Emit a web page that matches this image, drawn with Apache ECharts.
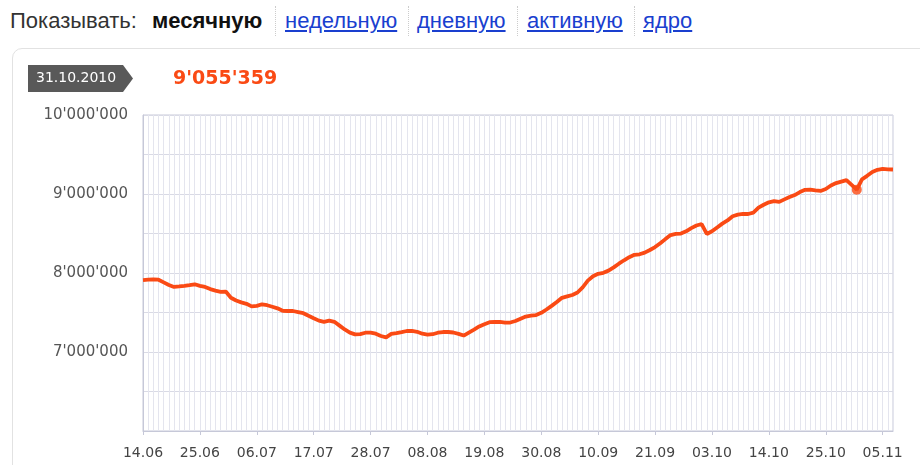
<!DOCTYPE html>
<html>
<head>
<meta charset="utf-8">
<script src="https://cdn.jsdelivr.net/npm/echarts@6/dist/echarts.min.js"></script>
<style>
  html, body { margin: 0; padding: 0; background: #fff; }
  .page { position: relative; width: 920px; height: 465px; overflow: hidden; }
  .nav span {
    position: absolute; top: 8px; white-space: nowrap;
    font-family: "Liberation Sans", Arial, sans-serif; font-size: 22px; color: #333;
  }
  .nav .cur { font-weight: bold; color: #111; }
  .nav a { color: #1a3fcf; text-decoration: underline; }
  .nav i { position: absolute; top: 6px; height: 30px; border-left: 1px dotted #ccc; }
  .panel {
    position: absolute; left: 12px; top: 48px; width: 960px; height: 500px;
    border: 1px solid #e2e2e2; border-radius: 10px; box-sizing: border-box;
  }
  #chart { position: absolute; left: 0; top: 0; width: 920px; height: 465px; }
</style>
</head>
<body>
<div class="page">
  <div class="nav">
    <span style="left:10px">Показывать:</span>
    <span class="cur" style="left:152px">месячную</span>
    <i style="left:275px"></i>
    <span style="left:285px"><a>недельную</a></span>
    <i style="left:408px"></i>
    <span style="left:417px"><a>дневную</a></span>
    <i style="left:517px"></i>
    <span style="left:527px"><a>активную</a></span>
    <i style="left:634px"></i>
    <span style="left:643px"><a>ядро</a></span>
  </div>
  <div class="panel"></div>
  <div id="chart"></div>
</div>
<script>
// daily dates, 14.06 .. 07.11 (27.09 is absent in the source data)
const dates = [
  '14.06','15.06','16.06','17.06','18.06','19.06','20.06','21.06','22.06','23.06','24.06','25.06','26.06','27.06','28.06','29.06','30.06',
  '01.07','02.07','03.07','04.07','05.07','06.07','07.07','08.07','09.07','10.07','11.07','12.07','13.07','14.07','15.07','16.07',
  '17.07','18.07','19.07','20.07','21.07','22.07','23.07','24.07','25.07','26.07','27.07','28.07','29.07','30.07','31.07',
  '01.08','02.08','03.08','04.08','05.08','06.08','07.08','08.08','09.08','10.08','11.08','12.08','13.08','14.08','15.08','16.08',
  '17.08','18.08','19.08','20.08','21.08','22.08','23.08','24.08','25.08','26.08','27.08','28.08','29.08','30.08','31.08',
  '01.09','02.09','03.09','04.09','05.09','06.09','07.09','08.09','09.09','10.09','11.09','12.09','13.09','14.09','15.09','16.09',
  '17.09','18.09','19.09','20.09','21.09','22.09','23.09','24.09','25.09','26.09','28.09','29.09','30.09',
  '01.10','02.10','03.10','04.10','05.10','06.10','07.10','08.10','09.10','10.10','11.10','12.10','13.10','14.10','15.10','16.10',
  '17.10','18.10','19.10','20.10','21.10','22.10','23.10','24.10','25.10','26.10','27.10','28.10','29.10','30.10','31.10',
  '01.11','02.11','03.11','04.11','05.11','06.11','07.11'
]

const audience = [
  7911000, 7916000, 7920000, 7915000, 7882000, 7849000, 7824000, 7830000, 7838000, 7847000,
  7857000, 7837000, 7824000, 7796000, 7777000, 7761000, 7765000, 7687000, 7652000, 7628000,
  7610000, 7578000, 7584000, 7604000, 7592000, 7573000, 7553000, 7522000, 7519000, 7519000,
  7506000, 7491000, 7458000, 7427000, 7397000, 7382000, 7397000, 7382000, 7334000, 7285000,
  7245000, 7223000, 7227000, 7244000, 7246000, 7232000, 7203000, 7185000, 7230000, 7239000,
  7252000, 7266000, 7266000, 7256000, 7232000, 7220000, 7225000, 7244000, 7253000, 7253000,
  7247000, 7230000, 7208000, 7246000, 7284000, 7323000, 7352000, 7377000, 7380000, 7380000,
  7371000, 7373000, 7392000, 7421000, 7449000, 7461000, 7467000, 7496000, 7538000, 7584000,
  7632000, 7686000, 7704000, 7722000, 7753000, 7819000, 7903000, 7958000, 7990000, 8003000,
  8030000, 8071000, 8118000, 8161000, 8200000, 8230000, 8237000, 8258000, 8291000, 8328000,
  8376000, 8429000, 8480000, 8494000, 8499000, 8528000, 8568000, 8601000, 8620000, 8494000,
  8528000, 8577000, 8625000, 8665000, 8719000, 8739000, 8747000, 8747000, 8765000, 8827000,
  8864000, 8895000, 8909000, 8900000, 8932000, 8961000, 8987000, 9025000, 9053000, 9056000,
  9047000, 9039000, 9063000, 9108000, 9138000, 9157000, 9176000, 9116000, 9055359, 9186000,
  9230000, 9278000, 9306000, 9318000, 9312000, 9310000
]

const yTicks = [6000000, 7000000, 8000000, 9000000, 10000000]
const selectedDay = '31.10'
const selectedLabel = '31.10.2010'
const selectedValue = 9055359

const fmt = v => String(v).replace(/\B(?=(\d{3})+(?!\d))/g, "'")

const chart = echarts.init(document.getElementById('chart'))
chart.setOption({
  animation: false,
  backgroundColor: 'transparent',
  grid: { left: 143, right: 27, top: 115, bottom: 34, show: true, borderColor: '#c6c8d8', borderWidth: 1 },
  graphic: [
    {
      type: 'polygon', z: 10,
      shape: { points: [[28, 65], [123, 65], [133, 78.5], [123, 92], [28, 92]] },
      style: { fill: '#595959' }
    },
    {
      type: 'text', z: 11, left: 36, top: 71,
      style: { text: selectedLabel, fill: '#fff', font: '14px "DejaVu Sans", sans-serif' }
    },
    {
      type: 'text', z: 11, left: 173, top: 70,
      style: { text: fmt(selectedValue), fill: '#fa4a14', font: 'bold 19px "DejaVu Sans", sans-serif' }
    }
  ],
  xAxis: {
    type: 'category',
    data: dates,
    boundaryGap: false,
    axisLine: { lineStyle: { color: '#c6c8d8' } },
    axisTick: { interval: 10, length: 4, lineStyle: { color: '#c6c8d8' } },
    axisLabel: { interval: 10, margin: 15, color: '#444', fontSize: 14, fontFamily: 'DejaVu Sans' },
    splitLine: { show: true, interval: 0, lineStyle: { color: '#e4e5ee' } }
  },
  yAxis: {
    type: 'value',
    min: 6000000, max: 10000000, interval: 500000,
    axisLine: { show: true, lineStyle: { color: '#c6c8d8' } },
    axisTick: { show: false },
    axisLabel: {
      margin: 15, color: '#555', fontSize: 15, fontFamily: 'DejaVu Sans',
      formatter: v => (yTicks.includes(v) && v > yTicks[0]) ? fmt(v) : ''
    },
    splitLine: { lineStyle: { color: '#d9dae5' } }
  },
  series: [
    {
      type: 'line',
      data: audience,
      showSymbol: false,
      lineStyle: { color: '#fa4a14', width: 3.8 },
      z: 3
    },
    {
      type: 'scatter',
      data: [[selectedDay, selectedValue]],
      symbolSize: 10,
      itemStyle: { color: '#fa4a14' },
      z: 4
    }
  ]
})
</script>
</body>
</html>
